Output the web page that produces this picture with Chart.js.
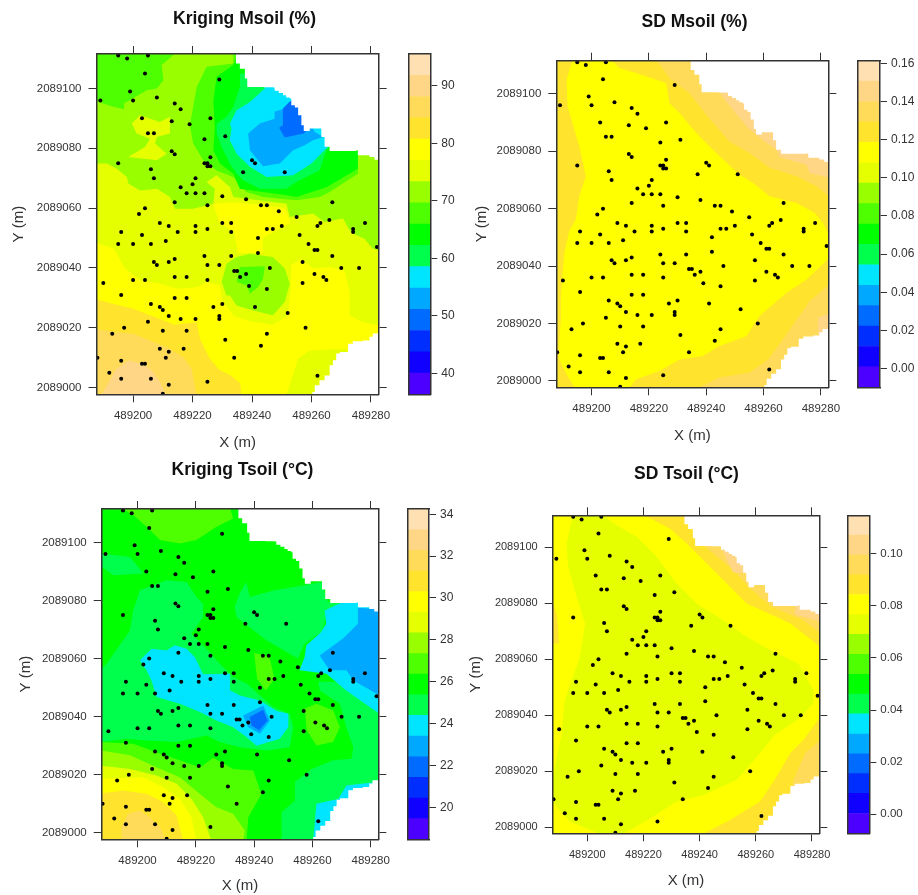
<!DOCTYPE html>
<html>
<head>
<meta charset="utf-8">
<title>Kriging maps</title>
<script src="https://cdn.jsdelivr.net/npm/chart.js@4"></script>
<style>
  html, body { margin: 0; padding: 0; background: #fff; overflow: hidden; }
  canvas { position: absolute; }
</style>
</head>
<body>
<script>
// Kriging + SD maps for soil moisture and soil temperature (2 x 2 panels, each with a colour key)

const xOrigin = 489000;
const yOrigin = 2089000;

// 16 level colours shared by all keys, low to high
const bandColors = ["#4C00FF", "#0F00FF", "#002EFF", "#006BFF", "#00A8FF", "#00E5FF", "#00FF4D", "#00FF00",
                    "#4DFF00", "#99FF00", "#E6FF00", "#FFFF00", "#FFE32D", "#FFDB59", "#FFD686", "#FFE0B3"];

// Key levels
const msoilLevels = [36.35, 40.05, 43.75, 47.45, 51.15, 54.85, 58.55, 62.25, 65.95, 69.65, 73.35, 77.05, 80.75, 84.45, 88.15, 91.85, 95.55];
const sdMsoilLevels = [-0.0098, 0.0009, 0.0116, 0.0223, 0.033, 0.0437, 0.0544, 0.0651, 0.0758, 0.0865, 0.0972, 0.1079, 0.1186, 0.1293, 0.14, 0.1507, 0.1614];
const tsoilLevels = [18.47, 19.46, 20.44, 21.43, 22.41, 23.4, 24.39, 25.37, 26.36, 27.34, 28.33, 29.32, 30.3, 31.29, 32.27, 33.26, 34.25];
const sdTsoilLevels = [-0.0073, 0.0003, 0.008, 0.0156, 0.0232, 0.0308, 0.0385, 0.0461, 0.0537, 0.0614, 0.069, 0.0766, 0.0843, 0.0919, 0.0995, 0.1071, 0.1147];

// Sample locations (x - 489000, y - 2089000)
const samplePoints = [
  [195,111],[198,110],[205,111],[204,105],[229,103],[199,99],[189,96],[200,96],[208,97],[214,95],[216,93],[203,90],
  [213,89],[226,90],[219,88],[205,85],[207,85],[231,84],[224,83],[213,79],[214,78],[226,77],[195,75],[224,75],
  [225,75],[225,74],[226,74],[206,73],[207,70],[221,70],[220,68],[216,67],[218,65],[221,65],[224,65],[230,64],
  [238,63],[214,62],[225,61],[204,60],[202,58],[209,55],[212,54],[215,52],[196,52],[203,51],[221,54],[221,52],
  [225,53],[230,55],[233,55],[233,52],[195,48],[200,48],[206,48],[211,49],[224,44],[233,44],[242,50],[242,45],
  [245,53],[247,53],[243,61],[245,61],[249,59],[250,54],[255,57],[256,51],[259,48],[251,72],[240,76],[241,75],
  [237,72],[267,62],[266,56],[263,55],[262,54],[274,53],[274,52],[278,55],[282,47],[261,46],[262,46],[267,44],
  [257,42],[270,40],[276,40],[261,38],[264,37],[265,36],[257,35],[246,40],[238,38],[234,39],[235,39],[236,37],
  [239,34],[245,33],[241,27],[230,28],[227,27],[229,24],[229,23],[221,23],[216,23],[212,24],[210,26],[209,27],
  [206,28],[214,30],[218,30],[214,37],[218,37],[225,36],[204,36],[200,36],[190,35],[196,31],[207,42],[208,41],
  [212,42],[214,43],[225,41],[229,41],[205,22],[197,20],[193,18],[210,19],[218,19],[209,13],[212,12],[217,13],
  [211,10],[203,8],[204,8],[196,9],[188,10],[192,5],[196,3],[206,3],[212,1],[210,-2],[225,2],[262,4],
  [258,20],[252,25],[245,18],[243,14],[231,16],[234,10]
];

// Unsampled corners of the grid, same in every panel
const maskNorthEast = [[234.6,112],[234.6,108.3],[235.9,108.3],[235.9,106.6],[237.6,106.6],[237.6,103.3],[238.4,103.3],[238.4,100.5],
  [244,100.4],[247.1,100.3],[247.6,99.2],[249,98.5],[250.4,97.7],[251.5,97],[252.7,96.6],[253.2,94.4],[254.4,93.6],[255.5,91],
  [256.6,87.7],[257.4,85.8],[259.4,86.6],[262.2,86.6],[263.3,83.8],[264.4,80.5],[266.1,79.1],[275.1,79.3],[275.6,77.7],[279.5,77.1],
  [281.2,76.2],[283,75.2],[290,75.2],[290,115],[234.6,115]];
const maskSouthEast = [[283,18.1],[280.6,17],[279.5,15.8],[277.3,15.5],[273.9,14.7],[272.3,11.9],[269.5,11.4],[268.3,9.15],[267.2,7.5],
  [266.1,4.1],[264.4,2.5],[262.7,0.8],[261.1,-1.4],[260.3,-3],[290,-5],[290,18.1]];

const fullRect = [[180,-10],[290,-10],[290,120],[180,120]];

// Zones painted in order: [colour level, outline]
const msoilZones = [
  [10, fullRect],
  [11, [[187,48.7],[193.4,46.5],[197.3,39.8],[202.4,35.9],[209.1,34.7],[214.7,33.1],[221.4,33.6],[224.7,35.3],[229.2,34.2],[230,29],[234,24],[240,22],[247,21],[252,24],[253,33],[253.2,40.9],[256.6,43.1],[260.5,39.8],[266.1,40.3],[271.1,39.2],[272.8,32],[272.8,24.2],[277.3,21.9],[283,20.8],[283,-3],[187,-3]]],
  [12, [[187,29.7],[193.4,28],[200.1,26.4],[209,23],[214,21],[221.4,21.9],[222.5,16.3],[225.8,9.7],[229,6],[233,4],[236,1.5],[236.5,-3],[187,-3]]],
  [13, [[187,19.7],[193.4,18.6],[200.1,18],[205.7,15.8],[211.3,13.6],[216.9,10.2],[219.7,6.3],[221.4,-3],[187,-3]]],
  [14, [[189,-3],[191.2,0.75],[194.5,6.3],[198.4,9.1],[203.5,8],[206.8,5.2],[209,1.9],[211.3,-3]]],
  [10, [[251.3,-3],[252.7,1],[255.5,9.7],[259.4,12.4],[272,13],[272,-3]]],
  [9, [[187,74.9],[191.2,74.9],[194.5,73.2],[197.9,70.4],[198.4,68.2],[202.4,65.9],[208,66.5],[212.4,63.7],[214.1,59.8],[220.2,59.8],[227,61.5],[227.5,66.5],[224.7,68.7],[228.1,71],[232.6,67],[233.7,63.7],[251.6,61.5],[252.7,57],[260.5,58.2],[264.4,55.4],[270.6,56.5],[272.8,52.6],[273.9,51.5],[277.8,49.8],[280.6,46.4],[283,46],[283,115],[187,115]]],
  [8, [[187,96],[193,94],[197,93],[197,95],[204.6,99.4],[208,100],[210.2,102.7],[209.6,107.8],[213.5,111.1],[213.5,115],[187,115]]],
  [8, [[233.7,108.3],[224.7,107.2],[221.4,100.5],[220.2,93.8],[219.1,87.7],[220.2,81.6],[223.6,76],[228.1,72.6],[233.7,70.4],[238.1,65.4],[243.7,63.7],[254.9,62.6],[262.7,63.7],[266.1,65.4],[275.6,71.5],[275.6,77.7],[275.6,115],[233.7,115]]],
  [7, [[227,96],[228.1,103.9],[233.7,107.8],[235.3,111.5],[245,115],[290,85],[275.6,79.3],[275.6,73.2],[265,67],[254.9,63.7],[251.6,64.3],[243.7,65.4],[235.9,66.5],[233.7,71.5],[229.2,74.9],[227,79.3],[227.5,87.1]]],
  [6, [[235.9,100.3],[234.8,97.2],[233.7,93.8],[231.4,90.5],[228.1,88.2],[228.1,84.9],[229.8,80.4],[232.5,74.9],[234.8,71.5],[237,69.3],[242.6,66.5],[251.6,66.5],[254.9,68.7],[262.7,72.6],[265,79.3],[270,85],[250,105],[236,105]]],
  [5, [[244.3,100],[239.3,95.5],[234.8,92.7],[232.6,88.3],[233.1,86.6],[232.5,82.7],[233.7,80.4],[234.8,78.2],[239.3,73.8],[244.9,70.4],[253.8,71],[260,74.9],[265,79.9],[270,85],[255,105],[244.3,105]]],
  [4, [[238.7,84.9],[242.6,88.3],[247.6,89.9],[247.6,92.2],[251,93.3],[252.7,95.5],[258.3,91.6],[261,85.5],[263.9,83.8],[260.5,82.7],[257.7,81],[253.8,79.3],[249.3,74.9],[243.7,74],[239.3,79.3]]],
  [3, [[252.5,95.5],[250.4,93.3],[250.4,87.7],[249.1,86.9],[251,83.6],[257.4,84.9],[262,90],[255,97]]],
  [10, [[199.6,88.3],[202.3,91],[209,88.8],[212.4,90.5],[212.4,84.9],[208,83.8],[207.4,81.6],[211.3,78.2],[208,76],[198.4,77.1],[204,80.4],[205.7,83.2],[201.2,84.9]]],
  [11, [[227,61.5],[233.7,62],[245,61],[251,60],[253,55],[249,53],[243.7,50],[243.7,45],[235.3,45],[234,52],[229,55]]],
  [9, [[229.8,35.3],[231.4,41.4],[234.8,43.7],[239.3,44.8],[247,43.7],[251,39.8],[252.7,34.7],[251,28.6],[247,24.2],[240.4,25.8],[234.8,27.5],[232.6,30.8],[231.4,30.8]]],
  [8, [[235.9,40.3],[244.3,40.6],[243.7,36.4],[242,33.6],[239.3,31.4],[238.1,34.2],[234.8,35.3]]]
];

const sdMsoilZones = [
  [12, fullRect],
  [11, [[193.4,112],[191.3,104.9],[191.6,95.6],[195.7,81.7],[198,71.3],[195.7,64.3],[194.5,56.2],[192.2,52.1],[190.5,44.6],[189.3,29.6],[189.3,21.4],[188.7,13.3],[188.7,7.5],[191,2.9],[194.5,-3],[212.6,-3],[215.5,0.6],[223.7,3.5],[230.7,7.5],[238.8,8.7],[244.6,12.2],[254,15.6],[258.6,22.6],[268,30.7],[275,35.3],[283,42.9],[283,50.4],[280.8,55],[277.9,58.5],[271.5,62],[262.1,64.3],[256.3,69],[251.6,71.8],[242.3,80.5],[236.5,86.3],[230.7,93.3],[227.2,96.7],[226,103.7],[215.5,107.2],[209.7,109],[206.8,112]]],
  [13, [[222.5,112],[227.2,105.4],[234.2,100.2],[240,92.7],[248.1,83.4],[255.1,79.4],[262.1,74.2],[271.5,71.3],[278.5,67.8],[283,64.3],[290,64],[290,115]]],
  [14, [[244.7,100.2],[249.3,94.4],[254.6,88.1],[258,85.2],[264.5,80.5],[265.6,78],[275,75.3],[276.1,72.4],[283,70.7],[290,70],[290,115],[245,115]]],
  [13, [[235.9,-3],[244.6,1.2],[255.1,2.9],[261.6,7.5],[266.8,14.5],[272,22],[276.1,27.8],[283,33.6],[290,33],[290,-5],[236,-5]]],
  [14, [[279,22],[283,23.5],[283,16],[279,16]]]
];

const tsoilZones = [
  [7, fullRect],
  [6, [[187,56],[189.4,58.2],[197.4,69.7],[198.5,76.6],[200.8,83.5],[210,87],[216.8,86.4],[220.2,81.2],[222.5,78.9],[222.5,74.3],[218.5,68.6],[224.2,62.8],[228.2,58.2],[232.8,53.7],[237.4,51.4],[246.5,43.3],[252.2,41],[253.4,36.4],[252.2,29.5],[244.2,28.4],[235.1,29.5],[228.2,31.3],[223.7,33.5],[213.4,31.3],[203.1,31.8],[196.2,32.4],[187,31.3]]],
  [6, [[187,96.2],[197.4,95],[202,89.3],[191.7,88.7],[187,92.1]]],
  [6, [[233.3,77.8],[235,82.4],[237.3,86.4],[238.5,81.2],[247,83.5],[256.7,85.2],[263,86.4],[265.3,79.5],[270.5,78.9],[264.7,75.5],[263.6,69.7],[257.3,65.1],[255,60],[244.2,66.3],[233.9,74.3]]],
  [6, [[249.4,-3],[249.4,7.1],[254,11.1],[254,17.5],[259.7,22],[267.1,25],[273.4,25.5],[274,29.5],[283,31],[290,31],[290,-5],[249.4,-5]]],
  [6, [[262.5,49],[269.4,44.5],[271.6,36.4],[274,29.5],[283,30.7],[290,30],[290,52],[262,52]]],
  [8, [[194,112],[198.5,109.4],[203.1,105.4],[207.7,100.8],[214.5,99.6],[220.2,100.8],[227.1,105.4],[232.8,108.2],[231.7,112]]],
  [8, [[187,31.3],[198.5,30.7],[206.5,27.8],[214.5,25],[221.4,22.6],[226,25.9],[232.8,22],[239.7,21.5],[242.5,13.4],[238,5.4],[237.4,-3],[187,-3]]],
  [9, [[187,28.4],[197.4,26.7],[206.5,22.6],[214.5,19.2],[221.4,13.4],[227.1,8.8],[232.8,6.6],[236.8,0.8],[236.2,-3],[187,-3]]],
  [10, [[187,23.2],[197.4,22],[206.5,19.8],[213.4,16.9],[218.5,11.7],[222.5,5.4],[225.4,-3],[187,-3]]],
  [11, [[187,18.6],[202,19.2],[208.8,15.7],[214.5,11.7],[218.5,5.4],[220.2,-3],[187,-3]]],
  [12, [[187,13.5],[195,14.6],[203.1,13.5],[208.8,10.6],[213.4,6],[215.7,-3],[187,-3]]],
  [13, [[194.5,-3],[194.5,2],[196.8,6.6],[200.8,7.7],[204.2,5.4],[207.7,2],[210,-3]]],
  [5, [[200.8,59.4],[204.8,63.4],[209.9,62.8],[212.8,64.6],[216.8,63.4],[219.7,60.5],[222.5,54.6],[231.7,54.8],[231.7,49.1],[235.1,47.3],[242,45.6],[247.7,42],[251.7,41],[251.7,36.4],[248.8,32.4],[240.8,30],[237.4,33],[232.8,36.4],[227.1,38.7],[221.4,41.6],[214.5,44.5],[206.5,46.8],[204.8,52.5],[203.1,55.9]]],
  [4, [[236.2,40.4],[243.1,43.9],[245.4,38.7],[242,34.1],[238,36.4]]],
  [3, [[238.5,39.9],[243.1,42.4],[244.6,38.7],[241.7,35.3],[239.1,37]]],
  [5, [[264.2,76.6],[270.5,79.5],[275.6,79.5],[283,79],[283,41],[271.6,49],[264.8,54.8],[255.6,56],[257.3,60.5],[257.9,64.6],[263,69.2],[264.7,72]]],
  [4, [[275.6,77.5],[283,77],[283,47.4],[274,52.5],[271.7,56],[265.9,56],[262.5,61.1],[270.5,66.9],[275.6,72]]],
  [5, [[260.2,-3],[261.4,10],[268.8,11.7],[271.7,16.3],[282,17.5],[290,17.5],[290,-5]]],
  [8, [[257.4,42.8],[261.4,44.5],[267.1,42.2],[269.4,36.4],[267.1,31.3],[261.4,30.1],[258,35.3]]],
  [8, [[240,62],[245.3,60.5],[247,53],[244,49],[241,53]]]
];

const sdTsoilZones = [
  [11, fullRect],
  [10, [[192.6,101.4],[195,112],[205.1,112],[210.4,108],[217.6,103.8],[224.7,96.7],[231.8,87.1],[238.9,80],[248.4,74],[256.7,68.1],[265,63.3],[275.1,58.6],[280.5,49],[280.5,44.3],[275.7,38.9],[266.8,33],[261.5,26.4],[253.2,16.9],[241.3,11.5],[231.8,9.2],[223.5,3.8],[215.2,-1],[211.6,-3],[205.7,-3],[193.8,2],[187,9.8],[187,14.5],[190.9,33.6],[192,45.5],[197.4,61],[199.2,72.9],[196.2,82.4],[193.2,93.1]]],
  [12, [[219.3,112],[229.4,106.8],[235.4,101.4],[246.1,90.7],[256.7,80],[272.2,72.9],[283,64.5],[290,64],[290,115],[219,115]]],
  [12, [[187,83.6],[189.3,75.2],[190,65.7],[187,65.7]]],
  [13, [[233.6,112],[237.2,106.8],[241.3,100.8],[252,91.9],[257.9,85.4],[265.6,78.8],[276.9,74],[283,69.3],[290,69],[290,115],[234,115]]],
  [14, [[248,99],[252,91],[258,91],[258,99]]],
  [14, [[274,76],[283,73.5],[283,80],[274,80]]],
  [12, [[240.1,-3],[250.8,2.6],[261.5,9.2],[267.4,18],[272.2,26.4],[276.9,31.2],[283,39.5],[290,39],[290,-5],[240,-5]]],
  [13, [[283,31.2],[277.5,26.4],[273.9,18],[272,12],[272,5],[290,5],[290,31]]]
];

// Page layout of each panel: canvas edges for the map, map plot box, key box
const panels = [
  { title: "Kriging Msoil (%)", zones: msoilZones, levels: msoilLevels, keyStep: 10,
    canvas: { l: 10, t: 9, r: 479, b: 452 }, plot: { l: 96.5, t: 54, r: 378.7, b: 394.3 }, key: { l: 408.3, r: 430.3 }, fs: 11.5 },
  { title: "SD Msoil (%)", zones: sdMsoilZones, levels: sdMsoilLevels, keyStep: 0.02,
    canvas: { l: 473, t: 12, r: 916, b: 445 }, plot: { l: 556.3, t: 60.7, r: 828.3, b: 387.3 }, key: { l: 857.7, r: 880 }, fs: 11.5 },
  { title: "Kriging Tsoil (°C)", zones: tsoilZones, levels: tsoilLevels, keyStep: 2,
    canvas: { l: 17, t: 460, r: 468, b: 895 }, plot: { l: 101.7, t: 509, r: 378.3, b: 839.3 }, key: { l: 407.3, r: 429 }, fs: 11.5 },
  { title: "SD Tsoil (°C)", zones: sdTsoilZones, levels: sdTsoilLevels, keyStep: 0.02,
    canvas: { l: 467, t: 464, r: 906, b: 890 }, plot: { l: 552.7, t: 515.3, r: 819.3, b: 833.3 }, key: { l: 848, r: 869.3 }, fs: 11 }
];

const inkColor = "#333";
const frame = { display: true, color: "#333", width: 1.5, z: 1 };
const xMin = xOrigin + 187.7, xMax = xOrigin + 282.6;
const yMin = yOrigin - 2.2, yMax = yOrigin + 111.5;

Chart.defaults.font.family = "'Liberation Sans', Arial, sans-serif";
Chart.defaults.color = inkColor;

function toXY(pairs) {
  return pairs.map(([x, y]) => ({ x: xOrigin + x, y: yOrigin + y }));
}

function addCanvas(l, t, w, h) {
  const c = document.createElement("canvas");
  c.width = w;
  c.height = h;
  c.style.left = l + "px";
  c.style.top = t + "px";
  c.style.width = w + "px";
  c.style.height = h + "px";
  document.body.appendChild(c);
  return c;
}

function tickGrid(len) {
  return { display: true, drawOnChartArea: false, drawTicks: true, tickLength: len, tickColor: inkColor, tickWidth: 1 };
}

function fixedWidth(w) { return { afterFit: s => { s.width = w; } }; }
function fixedHeight(h) { return { afterFit: s => { s.height = h; } }; }

function zoneDataset(color, pairs, order, stepped) {
  return {
    data: toXY(pairs), showLine: true, fill: "shape", stepped: !!stepped, order,
    backgroundColor: color, borderColor: "transparent", borderWidth: 0, pointRadius: 0
  };
}

function drawMap(p) {
  const c = p.canvas;
  const w = c.r - c.l, h = c.b - c.t;
  const titleLine = 21, edge = 8;

  const datasets = [];
  let order = p.zones.length + 3;
  p.zones.forEach(([level, pairs]) => {
    datasets.push(zoneDataset(bandColors[level], pairs, order--));
  });
  datasets.push(zoneDataset("#fff", maskNorthEast, 2, true));
  datasets.push(zoneDataset("#fff", maskSouthEast, 1, true));
  datasets.push({
    data: toXY(samplePoints), showLine: false, order: 0,
    pointRadius: 2, pointBackgroundColor: "#000", pointBorderWidth: 0
  });

  new Chart(addCanvas(c.l, c.t, w, h), {
    type: "scatter",
    data: { datasets },
    options: {
      responsive: false,
      animation: false,
      events: [],
      plugins: {
        legend: { display: false },
        tooltip: { enabled: false },
        title: {
          display: true, text: p.title, color: "#111",
          font: { size: 17.5, weight: "bold", lineHeight: 1.2 },
          padding: { top: 0, bottom: p.plot.t - c.t - titleLine - edge }
        }
      },
      scales: {
        x: {
          type: "linear", position: "bottom", min: xMin, max: xMax,
          grid: tickGrid(8), border: frame,
          ticks: { stepSize: 20, includeBounds: false, maxRotation: 0, autoSkip: false, padding: 7,
                   font: { size: p.fs }, callback: v => String(v) },
          title: { display: true, text: "X (m)", font: { size: 15, lineHeight: 1.2 }, padding: 0 },
          ...fixedHeight(c.b - p.plot.b)
        },
        y: {
          type: "linear", position: "left", min: yMin, max: yMax,
          grid: tickGrid(8), border: frame,
          ticks: { stepSize: 20, includeBounds: false, autoSkip: false, padding: 7,
                   font: { size: p.fs }, callback: v => String(v) },
          title: { display: true, text: "Y (m)", font: { size: 15, lineHeight: 1.2 }, padding: 0 },
          ...fixedWidth(p.plot.l - c.l)
        },
        xTop: {
          type: "linear", position: "top", min: xMin, max: xMax,
          grid: tickGrid(edge), border: frame,
          ticks: { display: false, stepSize: 20, includeBounds: false },
          ...fixedHeight(edge)
        },
        yRight: {
          type: "linear", position: "right", min: yMin, max: yMax,
          grid: tickGrid(edge), border: frame,
          ticks: { display: false, stepSize: 20, includeBounds: false },
          ...fixedWidth(c.r - p.plot.r)
        }
      }
    }
  });
}

function drawKey(p) {
  const levels = p.levels;
  const padX = 3, padY = 20, labelRoom = 37;
  const l = Math.floor(p.key.l) - padX;
  const t = Math.floor(p.plot.t) - padY;
  const b = Math.ceil(p.plot.b) + padY;
  const w = Math.ceil(p.key.r) + labelRoom - l;
  const decimals = p.keyStep < 1 ? 2 : 0;

  const datasets = bandColors.map((color, i) => ({
    data: [[levels[i], levels[i + 1]]],
    backgroundColor: color, borderWidth: 0, grouped: false,
    barPercentage: 1, categoryPercentage: 1
  }));

  new Chart(addCanvas(l, t, w, b - t), {
    type: "bar",
    data: { labels: [""], datasets },
    options: {
      responsive: false,
      animation: false,
      events: [],
      plugins: { legend: { display: false }, tooltip: { enabled: false } },
      scales: {
        x: {
          position: "bottom", grid: { display: false }, border: frame, ticks: { display: false },
          ...fixedHeight(b - p.plot.b)
        },
        xTop: {
          type: "linear", position: "top", min: 0, max: 1, grid: { display: false }, border: frame,
          ticks: { display: false },
          ...fixedHeight(p.plot.t - t)
        },
        y: {
          type: "linear", position: "right", min: levels[0], max: levels[levels.length - 1],
          grid: tickGrid(7), border: frame,
          ticks: { stepSize: p.keyStep, includeBounds: false, autoSkip: false, padding: 4, font: { size: p.fs + 0.5 },
                   callback: v => Number(v).toFixed(decimals) },
          ...fixedWidth(l + w - p.key.r)
        },
        yLeft: {
          type: "linear", position: "left", min: 0, max: 1, grid: { display: false }, border: frame,
          ticks: { display: false },
          ...fixedWidth(p.key.l - l)
        }
      }
    }
  });
}

panels.forEach(p => {
  drawMap(p);
  drawKey(p);
});
</script>
</body>
</html>
